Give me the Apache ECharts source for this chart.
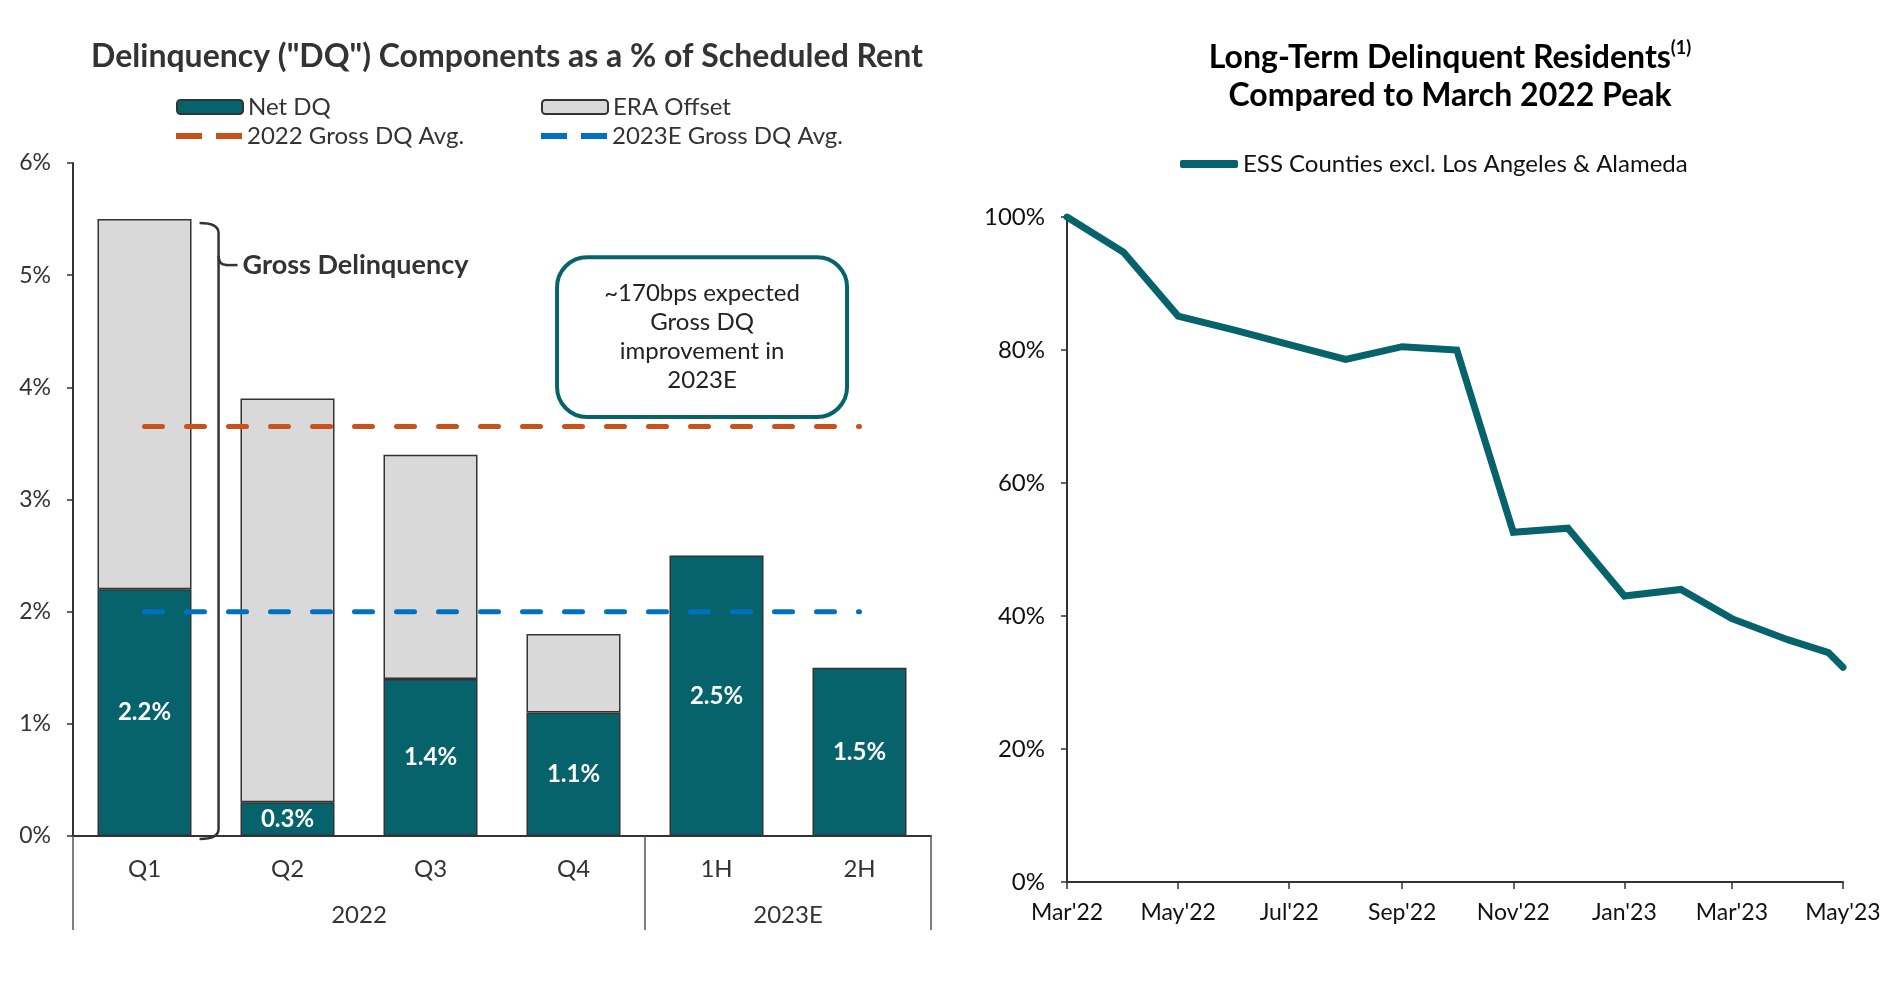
<!DOCTYPE html>
<html><head><meta charset="utf-8">
<script src="https://cdn.jsdelivr.net/npm/echarts@6/dist/echarts.min.js"></script>
<style>html,body{margin:0;padding:0;background:#fff}#c{width:1894px;height:992px}</style>
</head><body><div id="c"></div>
<script>
// ---------- data ----------
const categories = ['Q1', 'Q2', 'Q3', 'Q4', '1H', '2H'];
const groupLabels = ['2022', '2023E'];
const groupCenters = [1.5, 4.5];
const netDQ = [2.2, 0.3, 1.4, 1.1, 2.5, 1.5];
const eraOffset = [3.3, 3.6, 2.0, 0.7, null, null];
const grossAvg2022 = [3.65, 3.65, 3.65, 3.65, 3.65, 3.65];
const grossAvg2023E = [2.0, 2.0, 2.0, 2.0, 2.0, 2.0];
const monthNames = ['Jan','Feb','Mar','Apr','May','Jun','Jul','Aug','Sep','Oct','Nov','Dec'];
const lineDates = ['2022-03-01','2022-04-01','2022-05-01','2022-06-01','2022-07-01','2022-08-01','2022-09-01','2022-10-01','2022-11-01','2022-12-01','2023-01-01','2023-02-01','2023-03-01','2023-04-01','2023-04-23','2023-05-01'];
const lineValues = [100, 94.7, 85.1, 83.0, 80.8, 78.6, 80.5, 80.0, 52.6, 53.2, 43.0, 44.0, 39.6, 36.4, 34.5, 32.3];

const TEAL = '#06636B', GRAY = '#D9D9D9', ORANGE = '#C9521B', BLUE = '#0070C0', DARK = '#333333';
const FONT = 'Lato';
const FS = 24;
const DASH_ICON = 'path://M0,0 L26,0 L26,6 L0,6 Z M40,0 L66,0 L66,6 L40,6 Z';

const chart = echarts.init(document.getElementById('c'));

function legendItem(name, left, top, w, h, icon) {
  const o = { data: [name], left: left, top: top, padding: 0, itemWidth: w, itemHeight: h, selectedMode: false,
    textStyle: { fontFamily: FONT, fontSize: FS, color: DARK } };
  if (icon) o.icon = icon;
  return o;
}

const option = {
  animation: false,
  backgroundColor: '#fff',
  textStyle: { fontFamily: FONT },
  legend: [
    legendItem('Net DQ', 176, 95, 66, 14),
    legendItem('ERA Offset', 541, 95, 66, 14),
    legendItem('2022 Gross DQ Avg.', 176, 124, 66, 6, DASH_ICON),
    legendItem('2023E Gross DQ Avg.', 541, 124, 66, 6, DASH_ICON),
    { data: ['ESS Counties excl. Los Angeles & Alameda'], left: 1180, top: 152, padding: 0, itemWidth: 58, itemHeight: 8,
      icon: 'roundRect', selectedMode: false, textStyle: { fontFamily: FONT, fontSize: FS, color: '#111' } }
  ],
  grid: [
    { left: 73, top: 163, width: 858, height: 673 },
    { left: 1067, top: 217, width: 776, height: 665 }
  ],
  xAxis: [
    { type: 'category', gridIndex: 0, data: categories, position: 'bottom',
      axisLine: { lineStyle: { color: DARK, width: 2 } },
      axisTick: { show: true, interval: function (i) { return i === 0 || i === 4; }, length: 94,
        lineStyle: { color: '#555', width: 1.5 } },
      axisLabel: { margin: 21, fontFamily: FONT, fontSize: FS, color: DARK } },
    { type: 'value', gridIndex: 0, min: -0.5, max: 5.5, interval: 0.5, position: 'bottom',
      axisLine: { show: false }, axisTick: { show: false }, splitLine: { show: false },
      axisLabel: { margin: 67, fontFamily: FONT, fontSize: FS, color: DARK, showMinLabel: true, showMaxLabel: true,
        formatter: function (v) { const k = groupCenters.indexOf(v); return k >= 0 ? groupLabels[k] : ''; } } },
    { type: 'time', gridIndex: 1, min: lineDates[0], max: lineDates[lineDates.length - 1],
      minInterval: 75 * 86400000, maxInterval: 75 * 86400000,
      axisLine: { lineStyle: { color: DARK, width: 2 } },
      axisTick: { show: true, length: 7, lineStyle: { color: DARK, width: 1.5 } },
      splitLine: { show: false },
      axisLabel: { margin: 19, fontFamily: FONT, fontSize: 23, color: '#111', hideOverlap: false,
        showMinLabel: true, showMaxLabel: true,
        formatter: function (v) { const d = new Date(v); return monthNames[d.getMonth()] + "'" + String(d.getFullYear()).slice(2); } } }
  ],
  yAxis: [
    { type: 'value', gridIndex: 0, min: 0, max: 6, interval: 1,
      axisLine: { show: true, onZero: false, lineStyle: { color: DARK, width: 2 } },
      axisTick: { show: true, length: 6, lineStyle: { color: DARK, width: 1.5 } },
      splitLine: { show: false },
      axisLabel: { margin: 22, fontFamily: FONT, fontSize: 23, color: DARK, formatter: '{value}%' } },
    { type: 'value', gridIndex: 1, min: 0, max: 100, interval: 20,
      axisLine: { show: true, onZero: false, lineStyle: { color: DARK, width: 2 } },
      axisTick: { show: true, length: 6, lineStyle: { color: DARK, width: 1.5 } },
      splitLine: { show: false },
      axisLabel: { margin: 22, fontFamily: FONT, fontSize: FS, color: '#111', formatter: '{value}%' } }
  ],
  series: [
    { name: 'Net DQ', type: 'bar', xAxisIndex: 0, yAxisIndex: 0, stack: 'dq', data: netDQ, barWidth: 94,
      itemStyle: { color: TEAL, borderColor: DARK, borderWidth: 1.5 },
      label: { show: true, position: 'inside', color: '#fff', fontFamily: FONT, fontWeight: 'bold', fontSize: 24,
        formatter: function (p) { return p.value.toFixed(1) + '%'; } } },
    { name: 'ERA Offset', type: 'bar', xAxisIndex: 0, yAxisIndex: 0, stack: 'dq', data: eraOffset, barWidth: 94,
      itemStyle: { color: GRAY, borderColor: DARK, borderWidth: 1.5 } },
    { name: '2022 Gross DQ Avg.', type: 'line', xAxisIndex: 0, yAxisIndex: 0, data: grossAvg2022, symbol: 'none', z: 5,
      itemStyle: { color: ORANGE },
      lineStyle: { color: ORANGE, width: 5, type: [18, 24], cap: 'round' } },
    { name: '2023E Gross DQ Avg.', type: 'line', xAxisIndex: 0, yAxisIndex: 0, data: grossAvg2023E, symbol: 'none', z: 5,
      itemStyle: { color: BLUE },
      lineStyle: { color: BLUE, width: 5, type: [18, 24], cap: 'round' } },
    { name: 'ESS Counties excl. Los Angeles & Alameda', type: 'line', xAxisIndex: 2, yAxisIndex: 1,
      data: lineDates.map(function (d, i) { return [d, lineValues[i]]; }), symbol: 'none',
      itemStyle: { color: TEAL },
      lineStyle: { color: TEAL, width: 7, cap: 'round', join: 'miter' } }
  ]
};
chart.setOption(option);

// ---------- annotations positioned from the axes ----------
function px(v) { return chart.convertToPixel({ xAxisIndex: 1 }, v); }
function py(v) { return chart.convertToPixel({ yAxisIndex: 0 }, v); }
const band = px(1) - px(0);
const bx0 = px(0) + band * 0.385;   // just right of Q1 bar
const bx1 = bx0 + 19;
const yTop = py(netDQ[0] + eraOffset[0]) + 4;
const yBot = py(0) + 3;
const yNub = yTop + 42;
const bStyle = { stroke: DARK, lineWidth: 2.5, fill: null };

const boxL = px(2.885), boxR = px(4.913), boxT = py(5.16), boxB = py(3.735);

chart.setOption({
  graphic: [
    { type: 'text', x: 507, y: 57, style: { text: 'Delinquency ("DQ") Components as a % of Scheduled Rent',
      fontFamily: FONT, fontWeight: 'bold', fontSize: 32, fill: DARK, align: 'center', verticalAlign: 'middle' } },
    { type: 'text', x: 1450, y: 77, style: {
      text: 'Long-Term Delinquent Residents{sup|(1)}\nCompared to March 2022 Peak',
      fontFamily: FONT, fontWeight: 'bold', fontSize: 32, lineHeight: 38, fill: '#000', align: 'center', verticalAlign: 'middle',
      rich: { sup: { fontFamily: FONT, fontWeight: 'bold', fontSize: 18, lineHeight: 38, verticalAlign: 'top', fill: '#000', padding: [0, 0, 0, 0] } } } },
    { type: 'bezierCurve', shape: { x1: bx0, y1: yTop, cpx1: bx1, cpy1: yTop, x2: bx1, y2: yTop + 10 }, style: bStyle, z: 10 },
    { type: 'line', shape: { x1: bx1, y1: yTop + 10, x2: bx1, y2: yBot - 10 }, style: bStyle, z: 10 },
    { type: 'bezierCurve', shape: { x1: bx1, y1: yNub - 9, cpx1: bx1, cpy1: yNub, x2: bx1 + 8, y2: yNub }, style: bStyle, z: 10 },
    { type: 'line', shape: { x1: bx1 + 7, y1: yNub, x2: bx1 + 19, y2: yNub }, style: bStyle, z: 10 },
    { type: 'bezierCurve', shape: { x1: bx1, y1: yBot - 10, cpx1: bx1, cpy1: yBot, x2: bx0, y2: yBot }, style: bStyle, z: 10 },
    { type: 'text', x: bx1 + 24, y: yNub, style: { text: 'Gross Delinquency', fontFamily: FONT, fontWeight: 'bold', fontSize: 27,
      fill: DARK, align: 'left', verticalAlign: 'middle' }, z: 10 },
    { type: 'rect', shape: { x: boxL, y: boxT, width: boxR - boxL, height: boxB - boxT, r: 30 },
      style: { fill: '#fff', stroke: TEAL, lineWidth: 4 }, z: 10 },
    { type: 'text', x: (boxL + boxR) / 2, y: (boxT + boxB) / 2, style: {
      text: '~170bps expected\nGross DQ\nimprovement in\n2023E', fontFamily: FONT, fontSize: 24, lineHeight: 29,
      fill: '#222', align: 'center', verticalAlign: 'middle' }, z: 11 }
  ]
});
</script></body></html>
